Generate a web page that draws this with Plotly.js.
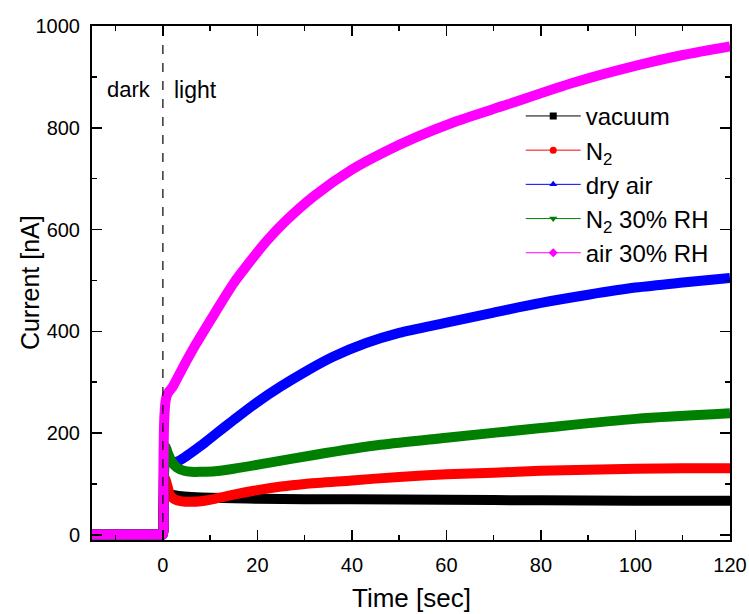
<!DOCTYPE html>
<html>
<head>
<meta charset="utf-8">
<script src="https://cdn.plot.ly/plotly-3.0.1.min.js"></script>
<style>html,body{margin:0;padding:0;background:#fff;}#chart{width:749px;height:614px;}</style>
</head>
<body>
<div id="chart"></div>
<script>
// Series names
const seriesNames = ["vacuum", "N<sub>2</sub>", "dry air", "N<sub>2</sub> 30% RH", "air 30% RH"];

// Time [sec] and current [nA] per series
const timeVacuum = [-15, -7, -0.2, 0, 0.1, 0.4, 1, 2, 4, 7, 10, 15, 20, 30, 40, 60, 80, 100, 120];
const currVacuum = [1, 1, 1, 1, 45, 95, 84, 79, 76, 74, 73, 72, 71, 70, 70, 69, 68, 67, 67];

const timeN2 = [-15, -7, -0.2, 0, 0.1, 0.4, 1, 1.5, 2.5, 4, 6, 8, 11, 15, 20, 25, 30, 40, 50, 60, 70, 80, 90, 100, 110, 120];
const currN2 = [1, 1, 1, 1, 60, 112, 95, 78, 70, 66, 65, 66, 71, 79, 88, 95, 100, 107, 114, 119, 122, 126, 128, 130, 131, 131];

const timeDryAir = [-15, -7, -0.2, 0, 0.2, 0.5, 1, 2, 3, 5, 8, 11, 15, 20, 25, 30, 36, 43, 50, 60, 70, 80, 90, 100, 110, 120];
const currDryAir = [1, 1, 1, 1, 100, 165, 152, 144, 144, 155, 175, 197, 226, 261, 292, 320, 350, 377, 397, 417, 437, 456, 472, 486, 496, 505];

const timeN2RH = [-15, -7, -0.2, 0, 0.2, 0.6, 1, 2, 3, 4.5, 6, 8, 11, 15, 22, 32, 46, 60, 80, 100, 120];
const currN2RH = [1, 1, 1, 1, 110, 172, 162, 142, 132, 126, 124, 124, 125, 130, 141, 157, 177, 191, 210, 228, 239];

const timeAirRH = [-15, -7, -0.2, 0, 0.1, 0.3, 0.6, 1, 2, 4, 7, 11, 15, 18, 22, 26, 32, 40, 47, 54, 61, 73, 87, 101, 110, 120];
const currAirRH = [1, 1, 1, 1, 120, 230, 265, 278, 290, 325, 375, 436, 495, 532, 578, 617, 666, 718, 753, 783, 809, 846, 889, 924, 943, 960];

const xTickVals = [0, 20, 40, 60, 80, 100, 120];
const yTickVals = [0, 200, 400, 600, 800, 1000];

const colors = ["#000000", "#ff0000", "#0000ff", "#008000", "#ff00ff"];
const symbols = ["square", "circle", "triangle-up", "triangle-down", "diamond"];
const times = [timeVacuum, timeN2, timeDryAir, timeN2RH, timeAirRH];
const currs = [currVacuum, currN2, currDryAir, currN2RH, currAirRH];

const traces = [];
for (let i = 0; i < 5; i++) {
  traces.push({
    x: times[i], y: currs[i], type: "scatter", mode: "lines",
    line: {color: colors[i], width: 10, shape: "spline", smoothing: 0.8}, showlegend: false, hoverinfo: "skip"
  });
}
for (let i = 0; i < 5; i++) {
  traces.push({
    x: [null], y: [null], type: "scatter", mode: "lines+markers", name: seriesNames[i],
    line: {color: colors[i], width: 1}, marker: {color: colors[i], symbol: symbols[i], size: 7}
  });
}

const font = {family: "Liberation Sans, Arial, sans-serif", color: "#000"};
const f = (s) => Object.assign({size: s}, font);

const layout = {
  width: 749, height: 614,
  margin: {l: 92, r: 19, t: 26, b: 74},
  paper_bgcolor: "#fff", plot_bgcolor: "#fff",
  font: f(19),
  showlegend: true,
  legend: {
    x: 0.672, y: 0.868, xanchor: "left", yanchor: "top",
    bgcolor: "rgba(0,0,0,0)", font: f(24),
    itemwidth: 55, tracegroupgap: 0
  },
  xaxis: {
    range: [-15, 120], tickvals: xTickVals, ticktext: xTickVals.map(String),
    ticks: "inside", ticklen: 10, tickwidth: 1.5, tickcolor: "#000",
    showline: true, linecolor: "#000", linewidth: 2, mirror: "ticks",
    showgrid: false, zeroline: false,
    minor: {ticks: "inside", ticklen: 5, tickwidth: 1.5, tickcolor: "#000", dtick: 10, tick0: 0, showgrid: false},
    ticklabelstandoff: 6, tickfont: f(20)
  },
  yaxis: {
    range: [-10, 1000], tickvals: yTickVals, ticktext: yTickVals.map(String),
    ticks: "inside", ticklen: 10, tickwidth: 1.5, tickcolor: "#000",
    showline: true, linecolor: "#000", linewidth: 2, mirror: "ticks",
    showgrid: false, zeroline: false,
    minor: {ticks: "inside", ticklen: 5, tickwidth: 1.5, tickcolor: "#000", dtick: 100, tick0: 0, showgrid: false},
    ticklabelstandoff: 6, tickfont: f(20)
  },
  shapes: [{
    type: "line", xref: "x", yref: "paper", x0: 0, x1: 0, y0: 0, y1: 1,
    line: {color: "#000", width: 1.2, dash: "dash"}
  }],
  annotations: [
    {text: "dark", xref: "x", yref: "y", x: -2, y: 875, xanchor: "right", showarrow: false, font: f(22)},
    {text: "light", xref: "x", yref: "y", x: 2, y: 875, xanchor: "left", showarrow: false, font: f(23)},
    {text: "Time [sec]", xref: "paper", yref: "paper", x: 0.5, y: -0.113, xanchor: "center", yanchor: "middle", showarrow: false, font: f(26)},
    {text: "Current [nA]", xref: "paper", yref: "paper", x: -0.097, y: 0.5, xanchor: "center", yanchor: "middle", textangle: -90, showarrow: false, font: f(25)}
  ]
};

Plotly.newPlot("chart", traces, layout, {staticPlot: true, displayModeBar: false});
</script>
</body>
</html>
